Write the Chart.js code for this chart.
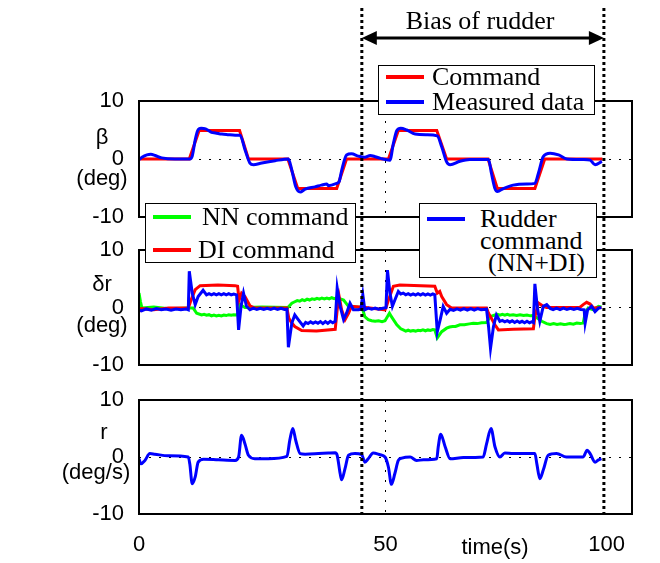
<!DOCTYPE html>
<html>
<head>
<meta charset="utf-8">
<script src="https://cdn.jsdelivr.net/npm/chart.js@4.4.1/dist/chart.umd.min.js"></script>
<style>
  body { margin: 0; background: #fff; }
  #wrap { position: relative; width: 660px; height: 563px; overflow: hidden; }
  #wrap canvas { position: absolute; left: 0; z-index: 1; }
  #overlay { top: 0; z-index: 2 !important; pointer-events: none; }
  .lbl { position: absolute; transform: translate(-50%, -50%); font-family: 'Liberation Sans', Arial, sans-serif; font-size: 22px; white-space: nowrap; z-index: 6; }
  .serif { font-family: 'Liberation Serif', 'Times New Roman', serif; font-size: 26px; }
  .box { position: absolute; background: #fff; border: 1.5px solid #000; z-index: 5; box-sizing: border-box; }
  .box span { position: absolute; white-space: nowrap; font-family: 'Liberation Serif', 'Times New Roman', serif; font-size: 26px; line-height: 26px; }
  .box i { position: absolute; height: 4px; width: 38px; }
</style>
</head>
<body>
<div id="wrap">
  <canvas id="c1" width="660" height="136" style="top:91px"></canvas>
  <canvas id="c2" width="660" height="135" style="top:240px"></canvas>
  <canvas id="c3" width="660" height="173" style="top:390px"></canvas>
  <canvas id="overlay" width="660" height="563"></canvas>

  <div class="lbl serif" style="left:480px;top:21px">Bias of rudder</div>

  <div class="box" style="left:378px;top:65px;width:217px;height:50px">
    <i style="left:7px;top:9px;background:#f00"></i><span style="left:53px;top:-2px">Command</span>
    <i style="left:7px;top:34px;background:#00f"></i><span style="left:53px;top:23px">Measured data</span>
  </div>
  <div class="box" style="left:145px;top:203px;width:211px;height:60px">
    <i style="left:7px;top:11px;background:#0f0"></i><span style="left:56px;top:0px">NN command</span>
    <i style="left:7px;top:44px;background:#f00"></i><span style="left:52px;top:33px">DI command</span>
  </div>
  <div class="box" style="left:419px;top:203px;width:178px;height:75px">
    <i style="left:7px;top:13px;background:#00f"></i><span style="left:60px;top:2px">Rudder</span>
    <span style="left:60px;top:24px">command</span>
    <span style="left:68px;top:46px">(NN+DI)</span>
  </div>

  <div class="lbl" style="left:102px;top:137px">β</div>
  <div class="lbl" style="left:102px;top:178px">(deg)</div>
  <div class="lbl" style="left:102px;top:284px">δr</div>
  <div class="lbl" style="left:102px;top:325px">(deg)</div>
  <div class="lbl" style="left:104px;top:432px">r</div>
  <div class="lbl" style="left:96px;top:472px">(deg/s)</div>
  <div class="lbl" style="left:495px;top:547px">time(s)</div>
</div>

<script>
// ---- data: [time (s), value] ----
const xTicks = [0, 50, 100];
const yTicks = [-10, 0, 10];
const biasStart = 45.2;
const biasEnd = 94.3;

// sideslip beta (deg)
const betaCommand = [[0,0],[10.2,0],[12.2,4.9],[20.4,4.9],[22.2,0],[30.2,0],[32.2,-5.1],[40.1,-5.1],[42.1,0],
  [50.6,0],[52.6,4.9],[60.4,4.9],[62.4,0],[70.8,0],[72.7,-5.1],[80.3,-5.1],[82.3,0],[94,0]];
const betaMeasured = [[0,-0.1],[0.6,0.3],[1.6,0.7],[2.4,0.8],[3.3,0.6],[4.6,0.2],[7.3,0],[10.3,0],[10.8,0.5],
  [11.4,3.3],[11.9,4.9],[12.6,5.3],[13.5,5.2],[14.7,4.6],[15.5,4.5],[16.8,4.3],[18,4.2],[19.5,4.1],[20.5,4.1],
  [21.5,1.6],[22.5,-0.7],[23.2,-1.0],[24.9,-0.7],[27.6,-0.3],[30.3,0],[31.0,-1.9],[31.8,-4.8],[32.7,-5.7],
  [33.7,-5.2],[35.7,-4.8],[37.0,-4.5],[38.1,-4.3],[38.4,-4.6],[40.1,-4.2],[40.6,-3.9],[41.1,-2.0],[42.1,0.7],
  [43.1,0.9],[44.5,0.5],[45.8,0.3],[46.9,0.6],[47.9,0.4],[49.0,0.1],[50.9,-0.2],[51.6,2.7],[52.3,4.9],[53.1,5.3],
  [54.3,5.0],[56.0,4.3],[58.4,4.2],[60.5,4.0],[61.4,2.1],[62.4,-0.5],[63.1,-1.0],[65.1,-0.4],[67.1,-0.1],
  [70.9,-0.1],[71.5,-2.5],[72.2,-5.1],[72.7,-5.6],[73.9,-5.1],[75.9,-4.5],[78.6,-4.3],[80.3,-4.2],[81.0,-2.5],
  [82.0,0.4],[83.4,1.0],[85.1,0.7],[86.8,0],[90.1,-0.1],[91.5,-0.2],[92.5,-1.0],[93.9,-0.4]];

// rudder deflection delta_r (deg)
const nnCommand = [[0,2.5],[0.3,1.0],[0.6,-0.1],[3,0.1],[6,-0.2],[10.3,-0.1],[11.0,-0.1],[11.7,-1.0],[12.7,-1.3],
  [13.2,-1.2],[13.7,-1.35],[14.2,-1.25],[14.7,-1.45],[15.2,-1.3],[15.7,-1.45],[16.2,-1.35],[16.7,-1.45],[17.2,-1.3],
  [17.7,-1.4],[18.2,-1.25],[18.7,-1.35],[19.2,-1.25],[19.7,-1.3],[20.2,-1.0],[20.5,0.5],[21.5,0],[25,0.1],[30.2,0],
  [31.0,0.75],[31.6,1.0],[32.1,1.2],[32.6,1.1],[33.1,1.35],[33.6,1.2],[34.1,1.45],[34.6,1.3],[35.1,1.5],[35.6,1.4],
  [36.1,1.6],[36.6,1.45],[37.1,1.65],[37.6,1.5],[38.1,1.65],[38.6,1.5],[39.1,1.7],[39.6,1.55],[40.1,1.7],[40.4,1.6],
  [41.5,1.3],[42.5,0.2],[45.0,0.0],[45.4,-0.4],[45.8,-1.6],[46.5,-2.1],[47.2,-2.3],[47.9,-2.4],[48.6,-2.3],
  [49.3,-2.45],[49.9,-2.3],[50.8,-1.0],[51.2,-1.6],[52.3,-3.0],[53.1,-3.7],[53.6,-3.9],[54.1,-4.1],[54.6,-3.95],
  [55.1,-4.1],[55.6,-4.0],[56.1,-4.1],[56.6,-3.95],[57.1,-4.05],[57.6,-3.9],[58.1,-4.05],[58.6,-3.9],[59.1,-4.0],
  [59.6,-3.85],[60.0,-3.9],[60.5,-5.3],[61.4,-4.2],[62.4,-3.6],[63.0,-3.4],[63.6,-3.3],[64.2,-3.3],[65.1,-3.0],
  [66.0,-3.0],[67.0,-2.85],[67.8,-2.75],[68.6,-2.8],[69.5,-2.65],[70.5,-2.6],[71.2,-1.6],[72.2,-1.3],[72.7,-1.2],
  [73.2,-1.35],[73.7,-1.2],[74.2,-1.35],[74.7,-1.2],[75.2,-1.35],[75.9,-1.25],[76.6,-1.4],[77.3,-1.25],[78.0,-1.4],
  [78.7,-1.3],[79.4,-1.45],[80.0,-1.4],[80.7,-1.8],[81.7,-2.4],[82.7,-2.8],[83.4,-2.95],[84.1,-2.8],[84.8,-2.95],
  [85.5,-2.85],[86.2,-2.95],[86.7,-2.9],[87.4,-2.8],[88.1,-2.9],[88.8,-2.7],[89.5,-2.8],[90.1,-2.7],[90.5,-1.0],
  [91.1,-0.1],[92.2,-0.4],[93.2,0.2],[93.8,0.1]];
const diCommand = [[0,-0.7],[0.5,-0.2],[3,-0.4],[6,-0.1],[10.0,-0.1],[10.6,1.4],[11.4,3.1],[12.4,3.8],[16,3.9],
  [19.5,3.8],[20.0,3.7],[20.3,1.3],[20.8,2.5],[21.5,1.9],[22.5,0.3],[23.5,-0.1],[30.0,-0.1],[30.4,-1.9],
  [31.0,-2.7],[31.6,-3.3],[33.0,-4.0],[36,-4.1],[39.8,-3.8],[40.2,-0.4],[40.6,1.9],[41.1,-0.4],[41.8,-2.1],
  [42.5,-1.0],[43.1,0.2],[46,0],[48.9,-0.3],[49.9,-0.4],[50.2,0.2],[50.6,1.3],[51.6,3.7],[52.9,3.9],[60.0,3.7],
  [60.5,2.5],[61.0,2.8],[61.4,1.9],[62.4,0.5],[63.4,-0.1],[70.5,-0.1],[70.9,-1.0],[71.5,-1.9],[72.2,-3.0],
  [72.9,-3.9],[75.9,-3.8],[80.0,-3.7],[80.3,-1.6],[81.0,0.8],[82.0,0.2],[82.7,0],[89.4,0],[90.1,0.5],[90.8,0.9],
  [91.5,0.6],[92.2,-0.1],[93.8,0]];
const rudderCommand = [[0,-0.4],[0.5,-0.6],[1.5,-0.25],[2.5,-0.45],[3.5,-0.2],[4.5,-0.4],[5.5,-0.25],[6.5,-0.45],
  [7.5,-0.25],[8.5,-0.4],[9.5,-0.25],[10.0,-0.4],[10.2,6.3],[10.8,2.5],[11.4,0.5],[12.0,1.9],[13.0,3.0],[13.7,2.2],
  [14.2,2.4],[14.7,2.2],[15.2,2.4],[15.7,2.2],[16.2,2.4],[16.7,2.2],[17.2,2.4],[17.7,2.2],[18.2,2.4],[18.7,2.2],
  [19.2,2.35],[19.8,2.2],[20.2,-3.9],[20.7,0.2],[21.2,2.5],[21.8,0.2],[22.5,-0.4],[23.2,-0.1],[23.9,-0.35],[24.6,-0.15],
  [25.3,-0.35],[26.0,-0.15],[26.7,-0.35],[27.4,-0.1],[28.1,-0.35],[28.8,-0.15],[29.5,-0.35],[30.0,-0.3],[30.3,-6.9],
  [31.0,-2.7],[31.6,-1.3],[32.3,-2.1],[33.3,-3.2],[33.8,-2.6],[34.3,-2.8],[34.8,-2.5],[35.3,-2.75],[35.8,-2.5],
  [36.3,-2.75],[36.8,-2.45],[37.3,-2.8],[37.8,-2.45],[38.3,-2.75],[38.8,-2.4],[39.3,-2.65],[39.8,-2.4],[40.2,3.4],
  [40.8,0.2],[41.5,-2.1],[42.1,-1.0],[42.8,0.75],[43.5,-0.4],[44.5,-0.4],[45.0,-0.3],[45.4,2.2],[45.8,-0.4],
  [46.5,-0.1],[47.2,-0.3],[47.9,-0.1],[48.6,-0.3],[49.7,-0.1],[50.1,0],[50.4,6.5],[50.9,2.5],[51.4,0.2],[51.9,1.3],
  [52.6,2.8],[53.1,2.35],[53.6,2.5],[54.1,2.2],[54.6,2.4],[55.1,2.15],[55.6,2.35],[56.1,2.15],[56.6,2.4],[57.1,2.15],
  [57.6,2.4],[58.1,2.15],[58.6,2.35],[59.1,2.15],[59.6,2.35],[60.0,2.2],[60.5,-4.2],[61.1,-2.1],[61.7,0.2],
  [62.4,-1.0],[63.1,-0.3],[63.8,-0.5],[64.5,-0.25],[65.2,-0.45],[65.9,-0.2],[66.6,-0.45],[67.3,-0.2],[68.0,-0.45],
  [68.7,-0.2],[69.4,-0.4],[70.5,-0.3],[70.9,-3.3],[71.3,-7.1],[71.9,-3.3],[72.5,-1.3],[73.2,-2.4],[73.7,-2.25],
  [74.2,-2.5],[74.7,-2.3],[75.2,-2.55],[75.7,-2.3],[76.2,-2.6],[76.7,-2.35],[77.2,-2.6],[77.7,-2.4],[78.2,-2.65],
  [78.7,-2.4],[79.2,-2.65],[79.7,-2.45],[80.0,-2.6],[80.3,4.1],[80.8,0],[81.3,-2.4],[82.0,0.2],[82.7,0.5],
  [83.4,-0.15],[84.0,-0.35],[84.7,-0.1],[85.4,-0.35],[86.1,-0.1],[86.8,-0.35],[87.5,-0.15],[88.2,-0.35],[88.9,-0.15],
  [89.6,-0.35],[90.3,-0.4],[90.5,-2.7],[91.0,-0.4],[91.8,0.2],[92.5,-0.7],[93.2,-0.1],[93.8,0]];

// yaw rate r (deg/s)
const yawRate = [[0,-0.3],[0.4,-1.2],[1.2,-0.6],[2.2,0.6],[3.2,0.5],[5.9,0.2],[10.0,0],[10.3,-1.2],[10.8,-4.7],
  [11.4,-3.5],[12.0,-0.9],[13.1,-0.4],[16.1,-0.5],[19.5,-0.6],[20.2,0],[20.8,3.8],[21.5,2.3],[22.2,0.3],
  [23.5,-0.3],[26.2,-0.3],[30.0,0.1],[30.6,3.0],[31.2,5.0],[31.8,2.9],[32.7,0.6],[33.7,0.5],[36.4,0.6],
  [38.4,0.7],[39.8,0.75],[40.2,0.3],[40.8,-2.9],[41.1,-4.0],[41.8,-2.0],[42.5,0.3],[43.8,0.6],[45.2,0.4],
  [45.8,-0.9],[46.5,-0.3],[47.5,0.7],[48.9,0.4],[49.9,0],[50.6,-1.8],[51.2,-4.8],[51.9,-2.9],[52.6,-0.6],
  [53.3,-0.2],[55.0,0],[56.3,-0.6],[57.7,-0.5],[60.4,-0.3],[60.7,1.8],[61.2,4.0],[62.1,1.8],[63.1,-0.3],
  [65.8,-0.1],[69.8,0],[70.5,2.3],[71.4,5.0],[72.2,1.8],[73.2,0],[74.2,0.7],[75.9,0.6],[80.3,0.6],[80.7,-1.2],
  [81.3,-3.8],[82.0,-2.3],[83.0,0.3],[84.7,0.6],[86.7,0],[90.1,0],[90.9,1.2],[91.5,0.6],[92.5,-0.9],
  [93.2,-0.5],[93.8,-0.3]];

const sans = "'Liberation Sans', Arial, sans-serif";

const framePlugin = {
  id: 'frame',
  afterDraw(chart) {
    const { ctx, chartArea: a } = chart;
    ctx.save();
    ctx.strokeStyle = '#000';
    ctx.lineWidth = 2;
    ctx.strokeRect(a.left, a.top, a.right - a.left, a.bottom - a.top);
    ctx.restore();
  }
};

function makeChart(id, datasets, padBottom, extraPlugins) {
  return new Chart(document.getElementById(id), {
    type: 'line',
    data: { datasets },
    options: {
      responsive: false,
      animation: false,
      layout: { padding: { top: 10, bottom: padBottom, left: 0, right: 28 } },
      plugins: { legend: { display: false }, tooltip: { enabled: false } },
      elements: { point: { radius: 0 }, line: { borderWidth: 3 } },
      scales: {
        x: {
          type: 'linear', min: 0, max: 100,
          afterBuildTicks: s => { s.ticks = xTicks.map(v => ({ value: v })); },
          afterFit: s => { s.height = 0; s.paddingLeft = 0; s.paddingRight = 0; },
          ticks: { display: false },
          grid: { drawTicks: false, lineWidth: 1, color: c => (c.tick && c.tick.value === 50) ? '#000' : 'rgba(0,0,0,0)' },
          border: { display: false, dash: [2, 8] }
        },
        y: {
          min: -10, max: 10,
          afterBuildTicks: s => { s.ticks = yTicks.map(v => ({ value: v })); },
          afterFit: s => { s.width = 139; s.paddingTop = 0; s.paddingBottom = 0; },
          ticks: { color: '#000', padding: 15, font: { family: sans, size: 22 } },
          grid: { drawTicks: false, lineWidth: 1, color: c => (c.tick && c.tick.value === 0) ? '#000' : 'rgba(0,0,0,0)' },
          border: { display: false, dash: [2, 8] }
        }
      }
    },
    plugins: [framePlugin].concat(extraPlugins || [])
  });
}

const line = (data, color, extra) => Object.assign({ data, borderColor: color, borderWidth: 3, fill: false, tension: 0 }, extra || {});

const chart1 = makeChart('c1', [
  line(betaMeasured, '#0000ff', { cubicInterpolationMode: 'monotone' }),
  line(betaCommand, '#ff0000')
], 10);

const chart2 = makeChart('c2', [
  line(rudderCommand, '#0000ff'),
  line(diCommand, '#ff0000'),
  line(nnCommand, '#00ff00')
], 10);

// x tick labels below the bottom plot
const xLabelPlugin = {
  id: 'xLabels',
  afterDraw(chart) {
    const { ctx, scales: { x } } = chart;
    ctx.save();
    ctx.fillStyle = '#000';
    ctx.font = '22px ' + sans;
    ctx.textBaseline = 'middle';
    xTicks.forEach((v, i) => {
      const px = x.getPixelForValue(v);
      if (i === xTicks.length - 1) { ctx.textAlign = 'right'; ctx.fillText(String(v), px - 7, 155); }
      else { ctx.textAlign = 'center'; ctx.fillText(String(v), px, 155); }
    });
    ctx.restore();
  }
};

const chart3 = makeChart('c3', [
  line(yawRate, '#0000ff', { cubicInterpolationMode: 'monotone' })
], 49, [xLabelPlugin]);

// bias interval markers spanning all three plots
(function drawOverlay() {
  const ctx = document.getElementById('overlay').getContext('2d');
  const xs = chart3.scales.x;
  const x0 = xs.getPixelForValue(biasStart);
  const x1 = xs.getPixelForValue(biasEnd);
  ctx.strokeStyle = '#000';
  ctx.lineWidth = 3;
  ctx.setLineDash([3, 3]);
  [x0, x1].forEach(x => {
    ctx.beginPath(); ctx.moveTo(x, 8); ctx.lineTo(x, 514); ctx.stroke();
  });
  ctx.setLineDash([]);
  const ay = 38;
  ctx.beginPath(); ctx.moveTo(x0 + 10, ay); ctx.lineTo(x1 - 10, ay); ctx.stroke();
  ctx.fillStyle = '#000';
  ctx.beginPath(); ctx.moveTo(x0, ay); ctx.lineTo(x0 + 15, ay - 7); ctx.lineTo(x0 + 15, ay + 7); ctx.closePath(); ctx.fill();
  ctx.beginPath(); ctx.moveTo(x1, ay); ctx.lineTo(x1 - 15, ay - 7); ctx.lineTo(x1 - 15, ay + 7); ctx.closePath(); ctx.fill();
})();
</script>
</body>
</html>
